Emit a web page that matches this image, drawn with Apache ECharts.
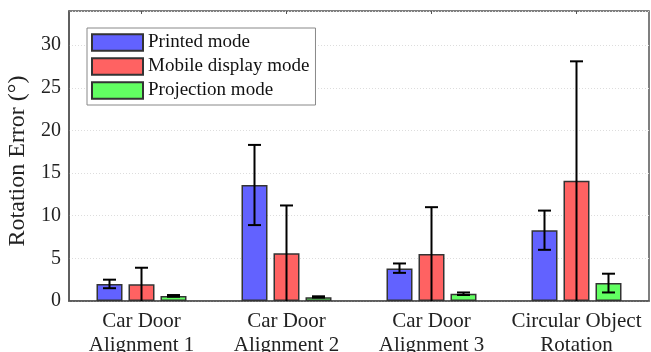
<!DOCTYPE html>
<html><head><meta charset="utf-8">
<script src="https://cdn.jsdelivr.net/npm/echarts@6/dist/echarts.min.js"></script>
<style>html,body{margin:0;padding:0;background:#fff}#c{width:651px;height:352px}</style>
</head><body><div id="c"></div>
<script>
var categories = ['Car Door\nAlignment 1', 'Car Door\nAlignment 2', 'Car Door\nAlignment 3', 'Circular Object\nRotation'];
var seriesNames = ['Printed mode', 'Mobile display mode', 'Projection mode'];
var printedMean = [2.0, 13.6, 3.8, 8.3];
var printedLow  = [1.5, 8.9, 3.3, 6.0];
var printedHigh = [2.5, 18.3, 4.4, 10.6];
var mobileMean = [1.95, 5.6, 5.5, 14.1];
var mobileLow  = [0, 0, 0, 0];
var mobileHigh = [3.9, 11.2, 11.0, 28.1];
var projMean = [0.6, 0.45, 0.85, 2.1];
var projLow  = [0.5, 0.4, 0.7, 1.0];
var projHigh = [0.7, 0.55, 1.0, 3.2];
var yTicks = [0, 5, 10, 15, 20, 25, 30];

var means = [printedMean, mobileMean, projMean];
var lows = [printedLow, mobileLow, projLow];
var highs = [printedHigh, mobileHigh, projHigh];
var colors = ['#6262ff', '#ff6262', '#62ff62'];
var FONT = 'Liberation Serif';
var barW = 26, barStep = 32;

var series = [];
for (var s = 0; s < 3; s++) {
  series.push({
    name: seriesNames[s], type: 'bar', data: means[s],
    barWidth: barW, barGap: ((barStep - barW) / barW * 100) + '%',
    itemStyle: { color: colors[s], borderColor: '#333', borderWidth: 1.5 },
    z: 2
  });
}
for (var s2 = 0; s2 < 3; s2++) {
  (function (si) {
    var data = [];
    for (var i = 0; i < categories.length; i++) data.push([i, lows[si][i], highs[si][i]]);
    series.push({
      type: 'custom', name: 'err' + si, z: 5, silent: true,
      data: data,
      encode: { x: 0, y: [1, 2] },
      renderItem: function (params, api) {
        var idx = api.value(0);
        var off = (si - 1) * barStep;
        var lo = api.coord([idx, api.value(1)]);
        var hi = api.coord([idx, api.value(2)]);
        var x = lo[0] + off, cw = 6.5;
        var st = { stroke: '#000', lineWidth: 2 };
        var ch = [
          { type: 'line', shape: { x1: x, y1: lo[1], x2: x, y2: hi[1] }, style: st },
          { type: 'line', shape: { x1: x - cw, y1: hi[1], x2: x + cw, y2: hi[1] }, style: st }
        ];
        if (api.value(1) > 0.05) ch.push({ type: 'line', shape: { x1: x - cw, y1: lo[1], x2: x + cw, y2: lo[1] }, style: st });
        return { type: 'group', children: ch };
      }
    });
  })(s2);
}

var chart = echarts.init(document.getElementById('c'), null, { renderer: 'canvas' });
chart.setOption({
  animation: false,
  backgroundColor: '#fff',
  textStyle: { fontFamily: FONT },
  grid: { left: 69, top: 11, width: 580, height: 290, show: true, borderColor: '#555', borderWidth: 1.5,
    backgroundColor: 'transparent', outerBoundsMode: 'none', containLabel: false },
  legend: {
    data: seriesNames, orient: 'vertical', left: 87, top: 28,
    itemWidth: 51, itemHeight: 16.5, itemGap: 5,
    padding: [5, 6, 5, 4],
    borderColor: '#888', borderWidth: 1, backgroundColor: '#fff',
    icon: 'rect',
    textStyle: { fontFamily: FONT, fontSize: 19, color: '#111', lineHeight: 17 }
  },
  xAxis: [{
    type: 'category', data: categories,
    axisLine: { lineStyle: { color: '#555', width: 1.5 } },
    axisTick: { show: false },
    axisLabel: { interval: 0, fontFamily: FONT, fontSize: 21, color: '#222', lineHeight: 24, margin: 8 }
  }, {
    type: 'category', data: categories, position: 'top',
    axisLine: { show: false },
    axisTick: { show: true, inside: true, alignWithLabel: true, length: 3, lineStyle: { color: '#555' } },
    axisLabel: { show: false }
  }],
  yAxis: {
    type: 'value', min: 0, max: 34, interval: 5,
    name: 'Rotation Error (°)', nameLocation: 'middle', nameGap: 37,
    nameTextStyle: { fontFamily: FONT, fontSize: 24, color: '#222', padding: [0, 10, 0, 0] },
    axisLine: { show: true, lineStyle: { color: '#555', width: 1.5 } },
    axisTick: { show: false },
    axisLabel: { fontFamily: FONT, fontSize: 20, color: '#222', margin: 8,
      formatter: function (v) { return yTicks.indexOf(v) >= 0 ? String(v) : ''; } },
    splitLine: { show: true, lineStyle: { color: '#ddd', type: [1, 2], width: 1 } }
  },
  series: series
});
</script></body></html>
